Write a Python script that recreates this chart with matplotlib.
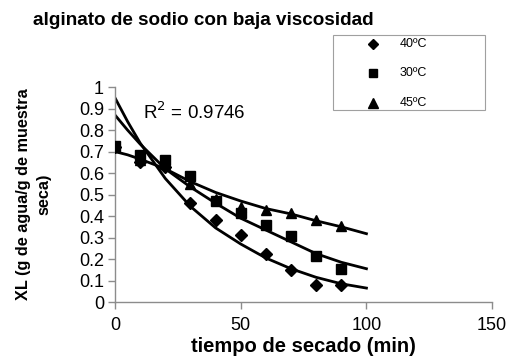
import matplotlib
matplotlib.use("Agg")
import matplotlib.pyplot as plt
from matplotlib.lines import Line2D
import matplotlib.patches as mpatches

plt.rcParams["font.family"] = ["Liberation Sans", "DejaVu Sans"]

# measured points (min, XL)
t = [0, 10, 20, 30, 40, 50, 60, 70, 80, 90]
xl_40 = [0.72, 0.652, 0.63, 0.463, 0.381, 0.311, 0.225, 0.15, 0.08, 0.08]
xl_30 = [0.725, 0.683, 0.663, 0.588, 0.472, 0.412, 0.357, 0.307, 0.215, 0.155]
xl_45 = [0.72, 0.66, 0.64, 0.55, 0.48, 0.443, 0.428, 0.415, 0.381, 0.353]

# trend lines
t_fit = [0, 5, 10, 20, 30, 40, 50, 60, 70, 80, 90, 100]
fit_40 = [0.95, 0.84, 0.74, 0.575, 0.445, 0.345, 0.27, 0.205, 0.155, 0.115, 0.085, 0.065]
fit_30 = [0.87, 0.80, 0.735, 0.62, 0.535, 0.46, 0.39, 0.335, 0.28, 0.225, 0.185, 0.155]
fit_45 = [0.70, 0.685, 0.665, 0.62, 0.56, 0.51, 0.47, 0.435, 0.41, 0.378, 0.35, 0.318]

labels = ["40ºC", "30ºC", "45ºC"]
markers = ["D", "s", "^"]
msizes = [6.3, 7.2, 7.8]

fig = plt.figure(figsize=(5.1, 3.6), dpi=100)
ax = fig.add_axes([0.2255, 0.161, 0.7395, 0.597])

for fit in (fit_40, fit_30, fit_45):
    ax.plot(t_fit, fit, color="black", lw=2, zorder=2)

for ys, m, ms in zip((xl_40, xl_30, xl_45), markers, msizes):
    ax.plot(t, ys, ls="none", marker=m, ms=ms, color="black", zorder=3)

ax.text(11, 0.884, "R$^2$ = 0.9746", fontsize=13.5, va="center", ha="left")

ax.set_xlim(0, 150)
ax.set_ylim(0, 1)
ax.set_xticks([0, 50, 100, 150])
ax.set_yticks([i / 10 for i in range(11)])
ax.set_yticklabels(["0", "0.1", "0.2", "0.3", "0.4", "0.5", "0.6", "0.7", "0.8", "0.9", "1"])
for s in ("top", "right"):
    ax.spines[s].set_visible(False)
for s in ("left", "bottom"):
    ax.spines[s].set_color("#8c8c8c")
    ax.spines[s].set_linewidth(1)
ax.tick_params(colors="#8c8c8c", labelcolor="black", labelsize=13, length=5, width=1)
ax.tick_params(axis="x", pad=6)
ax.tick_params(axis="y", pad=3)

ax.set_xlabel("tiempo de secado (min)", fontsize=14.5, fontweight="bold", labelpad=2)
fig.text(0.066, 0.46, "XL (g de agua/g de muestra\nseca)", rotation=90,
         fontsize=11.7, fontweight="bold", ha="center", va="center",
         multialignment="center", linespacing=1.5)

fig.text(0.065, 0.944, "alginato de sodio con baja viscosidad", fontsize=13.6,
         fontweight="bold", ha="left", va="center")

# legend box
fig.patches.append(mpatches.Rectangle((0.653, 0.694), 0.298, 0.208, transform=fig.transFigure,
                                      facecolor="white", edgecolor="#a0a0a0", lw=0.8))
rows = [0.878, 0.797, 0.714]
for lab, m, ms, yy in zip(labels, markers, msizes, rows):
    fig.add_artist(Line2D([0.731], [yy], marker=m, ms=ms * 0.85, color="black",
                          ls="none", transform=fig.transFigure))
    fig.text(0.784, yy, lab, fontsize=9, va="center", ha="left")

fig.savefig("out.png", dpi=100)
